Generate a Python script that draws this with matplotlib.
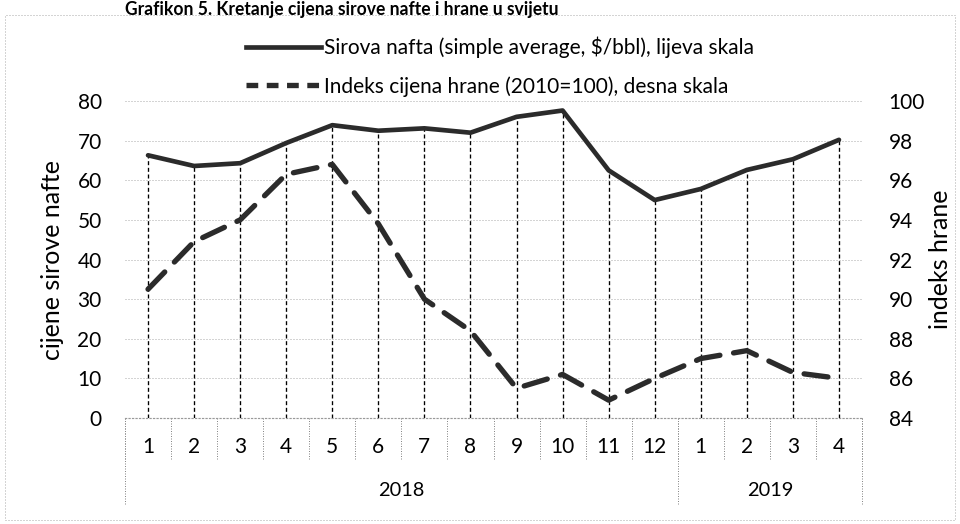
import numpy as np
import matplotlib.pyplot as plt
import matplotlib.transforms as mtransforms
from matplotlib.lines import Line2D
from matplotlib.patches import Rectangle

plt.rcParams['font.family'] = ['Lato', 'DejaVu Sans']

# data
months = ['1', '2', '3', '4', '5', '6', '7', '8', '9', '10', '11', '12', '1', '2', '3', '4']
years = ['2018', '2019']
year_counts = [12, 4]
oil = [66.3, 63.6, 64.3, 69.4, 73.9, 72.5, 73.1, 72.0, 76.0, 77.6, 62.5, 55.0, 57.8, 62.6, 65.3, 70.2]
food = [90.5, 92.9, 94.0, 96.3, 96.8, 93.8, 90.0, 88.4, 85.5, 86.2, 84.9, 86.0, 87.0, 87.4, 86.3, 86.0]

oil_label = 'Sirova nafta (simple average, $/bbl), lijeva skala'
food_label = 'Indeks cijena hrane (2010=100), desna skala'

ink = '#2b2b2b'

fig = plt.figure(figsize=(8, 524 / 120), dpi=120)
ax = fig.add_axes([125 / 960, 1 - 418 / 524, 737 / 960, 317 / 524])
ax2 = ax.twinx()

x = np.arange(len(months))

# drop lines from the oil series down to the axis
for xi, v in zip(x, oil):
    ax.plot([xi, xi], [0, v], color='black', lw=0.8, ls=(0, (3, 2)), zorder=2)

ax.plot(x, oil, color=ink, lw=2.8, solid_capstyle='round', zorder=4)
ax2.plot(x, food, color=ink, lw=3.2, dashes=(4.5, 2.6), dash_capstyle='round', zorder=4)

ax.set_xlim(-0.5, len(months) - 0.5)
ax.set_ylim(0, 80)
ax.set_yticks(range(0, 81, 10))
ax2.set_ylim(84, 100)
ax2.set_yticks(range(84, 101, 2))

ax.yaxis.grid(True, color='#aaaaaa', lw=0.6, ls=(0, (1, 2)))
ax.set_axisbelow(True)

for a in (ax, ax2):
    for s in a.spines.values():
        s.set_visible(False)
    a.tick_params(length=0, labelsize=12.5)
ax.spines['bottom'].set_visible(True)
ax.spines['bottom'].set_color('#999999')
ax.spines['bottom'].set_linestyle((0, (1, 2)))
ax.spines['bottom'].set_linewidth(0.7)

ax.tick_params(axis='y', pad=14)
ax2.tick_params(axis='y', pad=16)
ax.set_xticks([])

ax.set_ylabel('cijene sirove nafte', fontsize=15, va='center')
ax.yaxis.set_label_coords(-0.099, 0.5)
ax2.set_ylabel('indeks hrane', fontsize=15, va='center')
ax2.yaxis.set_label_coords(1.106, 0.5)

# two-level category axis
trans = mtransforms.blended_transform_factory(ax.transData, ax.transAxes)
for xi, m in zip(x, months):
    ax.text(xi, -0.09, m, transform=trans, ha='center', va='center', fontsize=12.5)
for k in range(len(months) + 1):
    ax.plot([k - 0.5, k - 0.5], [0, -0.13], transform=trans, color='#888888',
            lw=0.6, ls=(0, (1, 1.5)), clip_on=False)
start = 0
bounds = [-0.5]
for yname, n in zip(years, year_counts):
    ax.text(start + (n - 1) / 2, -0.228, yname, transform=trans, ha='center',
            va='center', fontsize=12)
    start += n
    bounds.append(start - 0.5)
for b in bounds:
    ax.plot([b, b], [0, -0.275], transform=trans, color='#888888',
            lw=0.6, ls=(0, (1, 1.5)), clip_on=False)

# legend
handles = [Line2D([], [], color=ink, lw=2.8),
           Line2D([], [], color=ink, lw=3.2, dashes=(2.2, 1.6))]
fig.legend(handles, [oil_label, food_label], loc='upper center',
           bbox_to_anchor=(500 / 960, 1 - 18 / 524), frameon=False,
           fontsize=12.5, handlelength=3.6, handletextpad=0.1, labelspacing=0.85)

# title (cut off at the top of the scan)
fig.text(0.13, 0.999, 'Grafikon 5. Kretanje cijena sirove nafte i hrane u svijetu',
         fontsize=10.5, fontweight='bold', va='top', ha='left')

# dotted chart frame
fig.patches.append(Rectangle((5 / 960, 4 / 524), 950 / 960, 505 / 524,
                             transform=fig.transFigure, fill=False,
                             ec='#aaaaaa', lw=0.6, ls=(0, (1, 2))))

fig.savefig('out.png', dpi=120)
